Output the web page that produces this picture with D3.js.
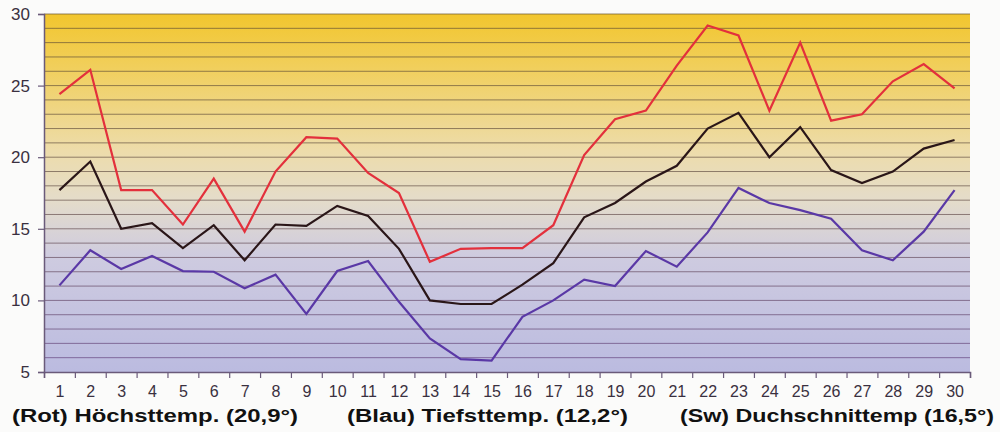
<!DOCTYPE html>
<html>
<head>
<meta charset="utf-8">
<script src="https://cdn.jsdelivr.net/npm/d3@7"></script>
<style>
  html, body { margin: 0; padding: 0; background: #fbfbfa; }
  svg { display: block; }
</style>
</head>
<body>
<svg id="chart" width="1000" height="432"></svg>
<script>
const days = d3.range(1, 31);
const maxTemp = [24.4, 26.1, 17.7, 17.7, 15.3, 18.5, 14.8, 19.0, 21.4, 21.3,
                 18.9, 17.5, 12.7, 13.6, 13.65, 13.65, 15.25, 20.15, 22.65, 23.25,
                 26.4, 29.2, 28.5, 23.25, 28.0, 22.55, 23.0, 25.3, 26.5, 24.8];
const avgTemp = [17.7, 19.7, 15.0, 15.4, 13.65, 15.25, 12.8, 15.3, 15.2, 16.6,
                 15.9, 13.6, 10.0, 9.75, 9.75, 11.1, 12.6, 15.8, 16.8, 18.3,
                 19.4, 22.0, 23.1, 20.0, 22.1, 19.1, 18.2, 19.0, 20.6, 21.2];
const minTemp = [11.05, 13.5, 12.2, 13.1, 12.05, 12.0, 10.85, 11.8, 9.05, 12.05,
                 12.75, 9.9, 7.35, 5.9, 5.8, 8.85, 10.0, 11.45, 11.0, 13.45,
                 12.35, 14.75, 17.85, 16.8, 16.3, 15.7, 13.5, 12.8, 14.8, 17.7];
const yTicks = [5, 10, 15, 20, 25, 30];
const legendLabels = ["(Rot) Höchsttemp. (20,9°)", "(Blau) Tiefsttemp. (12,2°)", "(Sw) Duchschnittemp (16,5°)"];

const svg = d3.select("#chart");
const L = 44, R = 970, T = 14, B = 372;

const x = d3.scaleLinear().domain([0.5, 30.5]).range([L, R]);
const y = d3.scaleLinear().domain([5, 30]).range([B, T]);

// background gradient
const defs = svg.append("defs");
const grad = defs.append("linearGradient").attr("id", "bg").attr("x1", 0).attr("y1", 0).attr("x2", 0).attr("y2", 1);
[[0, "#f2c62e"], [0.15, "#f1cf5c"], [0.38, "#eddcaa"], [0.52, "#e4dcca"], [0.68, "#cecbe0"], [1, "#bbbbe0"]]
  .forEach(([o, c]) => grad.append("stop").attr("offset", o).attr("stop-color", c));
const ggrad = defs.append("linearGradient").attr("id", "gl").attr("gradientUnits", "userSpaceOnUse")
  .attr("x1", 0).attr("y1", T).attr("x2", 0).attr("y2", B);
[[0, "#6e5a30"], [0.5, "#6e5a50"], [1, "#6a4a88"]]
  .forEach(([o, c]) => ggrad.append("stop").attr("offset", o).attr("stop-color", c));

svg.append("rect").attr("x", L).attr("y", T).attr("width", R - L).attr("height", B - T).attr("fill", "url(#bg)");

// gridlines every degree
svg.append("g").selectAll("line").data(d3.range(6, 31)).join("line")
  .attr("x1", L).attr("x2", R)
  .attr("y1", d => y(d)).attr("y2", d => y(d))
  .attr("stroke", "url(#gl)").attr("stroke-opacity", 0.75).attr("stroke-width", 1);

// y axis
const yAxis = svg.append("g").attr("transform", `translate(${L},0)`)
  .call(d3.axisLeft(y).tickValues(yTicks).tickSize(6).tickPadding(8));
yAxis.select(".domain").attr("stroke", "#6a5a7a").attr("stroke-width", 1.5);
yAxis.selectAll(".tick line").attr("stroke", "#6a5a7a").attr("stroke-width", 1.2);
yAxis.selectAll("text").attr("font-family", "Liberation Sans, Arial, sans-serif")
  .attr("font-size", 17).attr("fill", "#3a3040");

// x axis: tick marks at day boundaries
const xEdges = svg.append("g").attr("transform", `translate(0,${B})`)
  .call(d3.axisBottom(x).tickValues(d3.range(0.5, 31, 1)).tickSize(6).tickFormat(""));
xEdges.select(".domain").attr("stroke", "#6a5a7a").attr("stroke-width", 1.5);
xEdges.selectAll(".tick line").attr("stroke", "#6a5a7a").attr("stroke-width", 1.2);

// x labels at day centers
const xLabels = svg.append("g").attr("transform", `translate(0,${B})`)
  .call(d3.axisBottom(x).tickValues(days).tickSize(0).tickPadding(14).tickFormat(d3.format("d")));
xLabels.select(".domain").remove();
xLabels.selectAll("text").attr("font-family", "Liberation Sans, Arial, sans-serif")
  .attr("font-size", 16).attr("fill", "#3a3040");

// lines
const line = d3.line().x((d, i) => x(days[i])).y(d => y(d));
[[maxTemp, "#e3303c"], [avgTemp, "#2a1618"], [minTemp, "#5a38a6"]].forEach(([data, color]) => {
  svg.append("path").datum(data).attr("d", line)
    .attr("fill", "none").attr("stroke", color).attr("stroke-width", 2.2)
    .attr("stroke-linejoin", "miter");
});

// legend texts
const legX = [12, 347, 680];
const legW = [286, 281, 314];
svg.append("g").selectAll("text").data(legendLabels).join("text")
  .attr("x", (d, i) => legX[i]).attr("y", 422)
  .attr("font-family", "Liberation Sans, Arial, sans-serif")
  .attr("font-size", 18).attr("font-weight", "bold").attr("fill", "#111")
  .attr("textLength", (d, i) => legW[i]).attr("lengthAdjust", "spacingAndGlyphs")
  .text(d => d);
</script>
</body>
</html>
